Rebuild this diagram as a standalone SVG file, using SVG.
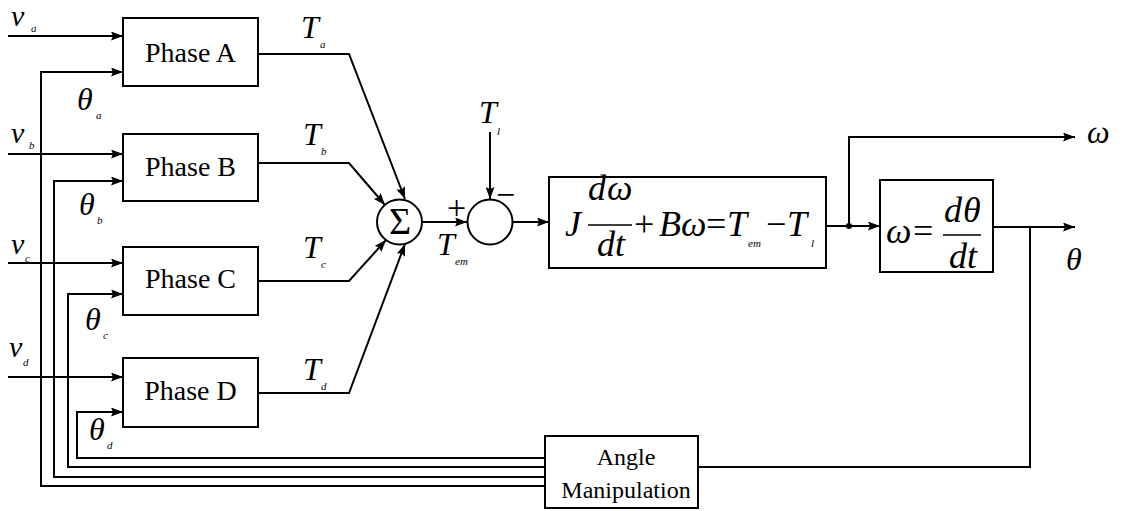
<svg xmlns="http://www.w3.org/2000/svg" width="1122" height="511" viewBox="0 0 1122 511">
<defs>
<marker id="arr" markerUnits="userSpaceOnUse" markerWidth="13" markerHeight="9" refX="12" refY="4.5" orient="auto">
<path d="M0,0 L12,4.5 L0,9 L2,4.5 z" fill="#000"/>
</marker>
<style>
.box{fill:#fff;stroke:#000;stroke-width:2}
.ln{fill:none;stroke:#000;stroke-width:2}
.ar{fill:none;stroke:#000;stroke-width:2;marker-end:url(#arr)}
text{font-family:'Liberation Serif','Times New Roman',Times,'DejaVu Serif','Noto Serif',serif;fill:#000}
.lbl{font-size:28px;text-anchor:middle}
.lbl2{font-size:24px;text-anchor:middle}
.mi{font-style:italic;font-size:32px}
.mv{font-style:italic;font-size:30px}
.sub{font-style:italic;font-size:11px}
.eq{font-style:italic;font-size:36px}
.op{font-size:36px}
.sig{font-size:38px;text-anchor:middle}
.pm{font-size:34px}
</style>
</defs>
<rect width="1122" height="511" fill="#fff"/>

<g id="connectors">
<line class="ar" x1="8" y1="36" x2="123" y2="36"/>
<line class="ar" x1="8" y1="154" x2="123" y2="154"/>
<line class="ar" x1="8" y1="263" x2="123" y2="263"/>
<line class="ar" x1="8" y1="377" x2="123" y2="377"/>
<polyline class="ar" points="545,486 41,486 41,72 123,72"/>
<polyline class="ar" points="545,477 54,477 54,181 123,181"/>
<polyline class="ar" points="545,467 68,467 68,294 123,294"/>
<polyline class="ar" points="545,458 77,458 77,412 123,412"/>
<polyline class="ar" points="258,54 349,54 405,199"/>
<polyline class="ar" points="258,163 349,163 385,205"/>
<polyline class="ar" points="258,281 349,281 386,240"/>
<polyline class="ar" points="258,393 349,393 405,244"/>
<line class="ar" x1="422" y1="222" x2="467" y2="222"/>
<line class="ar" x1="490" y1="132" x2="490" y2="199"/>
<line class="ar" x1="513" y1="222" x2="549" y2="222"/>
<line class="ar" x1="826" y1="226" x2="880" y2="226"/>
<polyline class="ar" points="849,226 849,137 1075,137"/>
<line class="ar" x1="993" y1="227" x2="1075" y2="227"/>
<polyline class="ln" points="1030,227 1030,467 698,467"/>
<circle cx="849" cy="226" r="3" fill="#000"/>
</g>

<g id="phaseA">
<rect class="box" x="123" y="18" width="135" height="68"/>
<text class="lbl" x="190.5" y="62">Phase A</text>
</g>
<g id="phaseB">
<rect class="box" x="123" y="134" width="135" height="67"/>
<text class="lbl" x="190.5" y="176">Phase B</text>
</g>
<g id="phaseC">
<rect class="box" x="123" y="247" width="135" height="68"/>
<text class="lbl" x="190.5" y="288">Phase C</text>
</g>
<g id="phaseD">
<rect class="box" x="123" y="358" width="135" height="69"/>
<text class="lbl" x="190.5" y="400">Phase D</text>
</g>

<g id="sum">
<circle class="box" cx="399.5" cy="222" r="22.5"/>
<text class="sig" x="400" y="234">Σ</text>
</g>
<g id="diff">
<circle class="box" cx="490" cy="222" r="22.5"/>
<text class="pm" x="447" y="219">+</text>
<text class="pm" x="496" y="206">−</text>
</g>

<g id="dynamics">
<rect class="box" x="549" y="177" width="277" height="91"/>
<text class="eq" x="565" y="236">J</text>
<text class="eq" x="588" y="200">d</text>
<text class="eq" x="607" y="200">ω</text>
<line x1="588" y1="225" x2="632" y2="225" stroke="#000" stroke-width="1.3"/>
<text class="eq" x="597" y="256">dt</text>
<text class="op" x="634" y="236">+</text>
<text class="eq" x="659" y="236">B</text>
<text class="eq" x="681" y="236">ω</text>
<text class="op" x="706" y="236">=</text>
<text class="eq" x="727" y="236">T</text>
<text class="sub" x="748" y="247">em</text>
<text class="op" x="766" y="236">−</text>
<text class="eq" x="787" y="236">T</text>
<text class="sub" x="811" y="247">l</text>
</g>

<g id="integrator">
<rect class="box" x="880" y="180" width="113" height="92"/>
<text class="eq" x="886" y="243">ω</text>
<text class="op" x="913" y="243">=</text>
<text class="eq" x="944" y="222">d</text>
<text class="eq" x="963" y="222">θ</text>
<line x1="943" y1="235" x2="981" y2="235" stroke="#000" stroke-width="1.3"/>
<text class="eq" x="949" y="268">dt</text>
</g>

<g id="angle">
<rect class="box" x="545" y="436" width="153" height="72"/>
<text class="lbl2" x="626" y="465">Angle</text>
<text class="lbl2" x="626" y="498">Manipulation</text>
</g>

<g id="labels">
<text class="mv" x="11" y="26">v</text><text class="sub" x="31" y="32">a</text>
<text class="mv" x="11" y="143">v</text><text class="sub" x="29" y="149">b</text>
<text class="mv" x="11" y="254">v</text><text class="sub" x="25" y="262">c</text>
<text class="mv" x="9" y="357">v</text><text class="sub" x="23" y="366">d</text>
<text class="mi" x="301" y="38">T</text><text class="sub" x="320" y="48">a</text>
<text class="mi" x="303" y="145">T</text><text class="sub" x="321" y="155">b</text>
<text class="mi" x="303" y="258">T</text><text class="sub" x="321" y="268">c</text>
<text class="mi" x="303" y="380">T</text><text class="sub" x="321" y="390">d</text>
<text class="mi" x="77" y="110">θ</text><text class="sub" x="96" y="119">a</text>
<text class="mi" x="79" y="215">θ</text><text class="sub" x="97" y="224">b</text>
<text class="mi" x="85" y="330">θ</text><text class="sub" x="103" y="339">c</text>
<text class="mi" x="89" y="440">θ</text><text class="sub" x="107" y="449">d</text>
<text class="mi" x="479" y="123">T</text><text class="sub" x="497" y="135">l</text>
<text class="mi" x="437" y="255">T</text><text class="sub" x="455" y="265">em</text>
<text class="mi" x="1087" y="143">ω</text>
<text class="mi" x="1066" y="270">θ</text>
</g>
</svg>
